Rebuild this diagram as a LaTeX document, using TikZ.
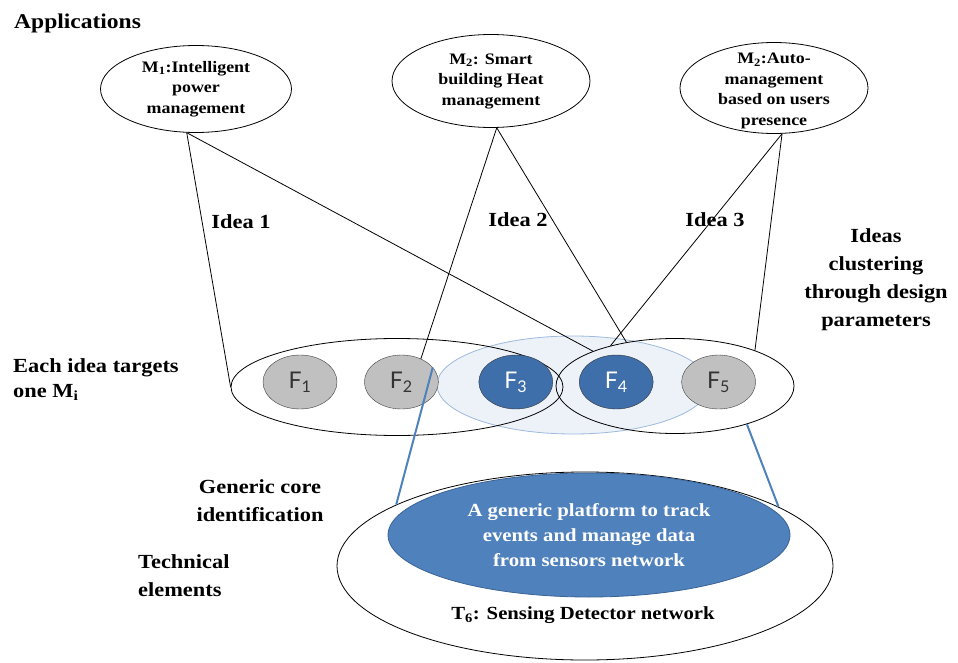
\documentclass[tikz,border=0pt]{standalone}
\usepackage{fontspec}
\setmainfont{Liberation Serif}[FakeStretch=1.12]
\newfontfamily\ffont{Lato}
\usetikzlibrary{positioning,shapes.geometric}

\definecolor{lbfill}{HTML}{EDF2F9}
\definecolor{lbline}{HTML}{9DB9DB}
\definecolor{fgrey}{HTML}{C0C0C0}
\definecolor{fblue}{HTML}{3F6FAA}
\definecolor{platblue}{HTML}{4F81BD}
\definecolor{platline}{HTML}{3A6496}

\begin{document}
\begin{tikzpicture}[x=1pt, y=-1pt, app/.style={draw, ellipse, inner sep=0pt, line width=0.8pt}, apptext/.style={align=center, inner sep=0pt, font=\bfseries\fontsize{16}{20.5}\selectfont}, feat/.style={draw=black!75, ellipse, fill=fgrey, text=black!80, minimum width=74pt, minimum height=54pt, inner sep=0pt, font=\ffont\fontsize{23}{23}\selectfont}, hotfeat/.style={feat, fill=fblue, draw=black!80, text=white}, group/.style={draw, ellipse, inner sep=0pt, line width=0.8pt}, note/.style={align=center, inner sep=0pt, font=\bfseries\fontsize{20}{28}\selectfont}, link/.style={line width=0.8pt}, core/.style={draw=platblue, line width=2pt}]
\useasboundingbox (0,0) rectangle (958,663);
% applications
\node[app, minimum width=191pt, minimum height=87pt] (m1) at (196,89) {};
\node[app, minimum width=198pt, minimum height=93pt] (m2) at (491,81) {};
\node[app, minimum width=188pt, minimum height=91pt] (m3) at (774,88) {};
\node[apptext] (m1txt) at (m1) {M\textsubscript{1}:Intelligent\\power\\management};
\node[apptext] (m2txt) at (m2) {M\textsubscript{2}: Smart\\building Heat\\management};
\node[apptext, yshift=-3pt] (m3txt) at (m3) {M\textsubscript{2}:Auto-\\management\\based on users\\presence};
% design parameters
\node[group, draw=lbline, fill=lbfill, minimum width=272pt, minimum height=98pt] (share) at (573,385) {};
\node[group, minimum width=332pt, minimum height=97pt] (lgrp) at (397,387) {};
\node[group, minimum width=238pt, minimum height=95pt] (rgrp) at (675,386) {};
\node[feat] (f1) at (300,382) {F\textsubscript{1}};
\node[feat, right=27pt of f1] (f2) {F\textsubscript{2}};
\node[hotfeat, right=40pt of f2] (f3) {F\textsubscript{3}};
\node[hotfeat, right=26pt of f3] (f4) {F\textsubscript{4}};
\node[feat, right=28pt of f4] (f5) {F\textsubscript{5}};
\foreach \a/\b in {m1.258/lgrp.west, m1.258/rgrp.157, m2.277/f2.50, m2.277/rgrp.138, m3.280/rgrp.148, m3.280/rgrp.24}{\draw[link] (\a) -- (\b);}
% technical elements
\node[group, fill=white, minimum width=496pt, minimum height=188pt] (tech) at (585,566) {};
\node[group, draw=platline, fill=platblue, text=white, align=center, minimum width=402pt, minimum height=124pt, font=\bfseries\fontsize{18.5}{25}\selectfont] (plat) at (589,535) {A generic platform to track\\events and manage data\\from sensors network};
\node[note, font=\bfseries\fontsize{18.5}{25}\selectfont] (t6) at (583,615) {T\textsubscript{6}: Sensing Detector network};
\draw[core] (f2.25) -- (tech.162);
\draw[core] (rgrp.-28) -- (tech.17);
% labels
\node[note, anchor=base west, font=\bfseries\fontsize{21}{25}\selectfont] (apps) at (14,29) {Applications};
\node[note] (idea1) at (241,222) {Idea 1};
\node[note] (idea2) at (518,220) {Idea 2};
\node[note] (idea3) at (715,220) {Idea 3};
\node[note] (clus) at (876,280) {Ideas\\clustering\\through design\\parameters};
\node[note, align=left, anchor=west, font=\bfseries\fontsize{20}{25}\selectfont] (each) at (13,380) {Each idea targets\\one M\textsubscript{i}};
\node[note] (gen) at (260,501) {Generic core\\identification};
\node[note, align=left, anchor=west] (techlbl) at (138,576) {Technical\\elements};
\end{tikzpicture}
\end{document}
